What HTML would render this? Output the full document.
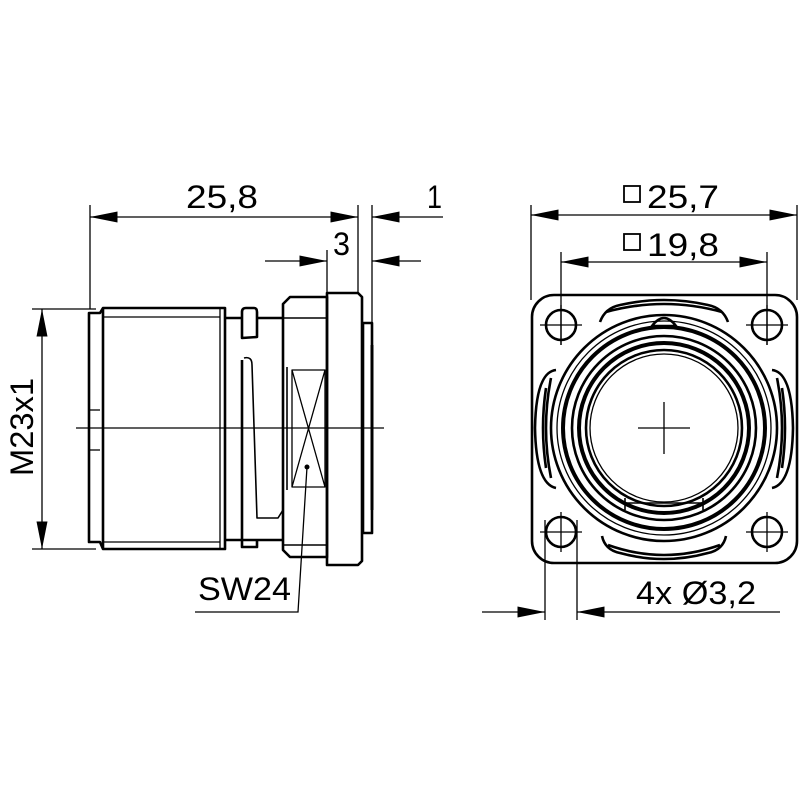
<!DOCTYPE html>
<html><head><style>html,body{margin:0;padding:0;background:#fff}svg{display:block}text{font-family:"Liberation Sans",sans-serif;font-size:32px;fill:#000}</style></head><body>
<svg width="800" height="800" viewBox="0 0 800 800" xmlns="http://www.w3.org/2000/svg">
<defs>
<marker id="a" viewBox="0 0 10 4" refX="10" refY="2" markerWidth="28" markerHeight="11" markerUnits="userSpaceOnUse" orient="auto-start-reverse"><path d="M0,0L10,2L0,4z" fill="#000"/></marker>
</defs>
<g stroke="#000" fill="none" stroke-width="1.3">
<line x1="90" y1="205" x2="90" y2="309"/>
<line x1="358" y1="205" x2="358" y2="293"/>
<line x1="372" y1="205" x2="372" y2="323"/>
<line x1="327" y1="250" x2="327" y2="297"/>
<line x1="90" y1="217" x2="358" y2="217" marker-start="url(#a)" marker-end="url(#a)"/>
<line x1="443" y1="217" x2="372" y2="217" marker-end="url(#a)"/>
<line x1="265" y1="261" x2="327" y2="261" marker-end="url(#a)"/>
<line x1="421" y1="261" x2="372" y2="261" marker-end="url(#a)"/>
<line x1="32" y1="309" x2="96" y2="309"/>
<line x1="32" y1="549" x2="96" y2="549"/>
<line x1="42" y1="309" x2="42" y2="549" marker-start="url(#a)" marker-end="url(#a)"/>
<line x1="76" y1="428" x2="384" y2="428"/>
</g>
<g stroke="#000" fill="none" stroke-width="2.6" stroke-linejoin="round">
<path d="M89,313 H100 L103,308 H225 V549 H103 L100,542 H89 Z"/>
<line x1="103" y1="308" x2="103" y2="549"/>
<line x1="220" y1="308" x2="220" y2="549" stroke-width="1.3"/>
<line x1="103" y1="317" x2="220" y2="317" stroke-width="1.3"/>
<line x1="103" y1="542" x2="220" y2="542" stroke-width="1.3"/>
<line x1="89" y1="410" x2="100" y2="410" stroke-width="1.3"/>
<line x1="89" y1="450" x2="100" y2="450" stroke-width="1.3"/>
<path d="M225,318 H242 M225,540 H283"/>
<path d="M242,338 V312 Q242,308 246,308 H254 Q257,308 257,312 V337 Z"/>
<path d="M257,318 H283"/>
<path d="M242,360 V547 H257 V540"/>
<path d="M244,358 Q252,356 252,365 L257,518 H278 L283,510" stroke-width="1.6"/>
<path d="M283,304 L290,297 H327 V557 H290 L283,550 Z"/>
<line x1="283" y1="318" x2="327" y2="318" stroke-width="1.6"/>
<line x1="283" y1="545" x2="327" y2="545" stroke-width="1.6"/>
<rect x="292" y="370" width="33" height="117" stroke-width="1.3"/>
<path d="M292,370 L325,487 M325,370 L292,487" stroke-width="1.3"/>
<line x1="287" y1="367" x2="287" y2="490" stroke-width="1.6"/>
<path d="M327,293 H358 L362,297 V561 L358,565 H327 Z"/>
<rect x="363" y="323" width="9" height="210"/>
<line x1="372" y1="345" x2="372" y2="510" stroke-width="3"/>
</g>
<circle cx="307" cy="467" r="2.5" fill="#000"/>
<path d="M307,467 L298,612 H195" stroke="#000" stroke-width="1.3" fill="none"/>
<text x="186" y="208" textLength="72" lengthAdjust="spacingAndGlyphs">25,8</text>
<text x="427" y="208" textLength="15" lengthAdjust="spacingAndGlyphs">1</text>
<text x="333" y="255" textLength="17" lengthAdjust="spacingAndGlyphs">3</text>
<text x="198" y="600" textLength="93" lengthAdjust="spacingAndGlyphs">SW24</text>
<text transform="translate(33,476) rotate(-90)" textLength="98" lengthAdjust="spacingAndGlyphs">M23x1</text>

<g stroke="#000" fill="none" stroke-width="1.3">
<line x1="531" y1="205" x2="531" y2="300"/>
<line x1="797" y1="205" x2="797" y2="300"/>
<line x1="531" y1="215" x2="797" y2="215" marker-start="url(#a)" marker-end="url(#a)"/>
<line x1="561" y1="252" x2="561" y2="345"/>
<line x1="767" y1="252" x2="767" y2="345"/>
<line x1="561" y1="262" x2="767" y2="262" marker-start="url(#a)" marker-end="url(#a)"/>
<line x1="545" y1="520" x2="545" y2="620"/>
<line x1="577" y1="520" x2="577" y2="620"/>
<line x1="482" y1="612" x2="545" y2="612" marker-end="url(#a)"/>
<line x1="780" y1="612" x2="577" y2="612" marker-end="url(#a)"/>
<path d="M638,428 H690 M664,402 V454"/>
<path d="M540,325 H582 M746,325 H788 M540,532 H582 M746,532 H788 M561,305 V345 M767,305 V345 M561,512 V552 M767,512 V552"/>
</g>
<g stroke="#000" fill="none" stroke-width="2.6">
<rect x="532" y="295" width="265" height="268" rx="22"/>
<circle cx="561" cy="325" r="15"/><circle cx="767" cy="325" r="15"/>
<circle cx="561" cy="532" r="15"/><circle cx="767" cy="532" r="15"/>
<circle cx="664" cy="428" r="113"/>
<circle cx="664" cy="428" r="107" stroke-width="1.3"/>
<circle cx="664" cy="428" r="101" stroke-width="4"/>
<circle cx="664" cy="428" r="92"/>
<circle cx="664" cy="428" r="85" stroke-width="4"/>
<circle cx="664" cy="428" r="78"/>
<circle cx="664" cy="428" r="74" stroke-width="1.3"/>
<path d="M556,370 Q536,372 535,428 Q536,484 556,488 M551,378 Q541,428 551,478 M546,388 Q540,428 546,468"/>
<path d="M772,370 Q792,372 793,428 Q792,484 772,488 M777,378 Q787,428 777,478 M782,388 Q788,428 782,468"/>
<path d="M600,322 Q605,308 620,305 Q664,295 708,305 Q723,308 728,322 M606,312 Q664,296 722,312"/>
<path d="M602,536 Q605,550 620,553 Q664,565 708,553 Q723,550 726,536 M608,545 Q664,565 720,545"/>
<path d="M652,326 Q664,310 676,326 Z"/>
<path d="M627,503 H701 M625,498 V510 M703,498 V510" stroke-width="1.6"/>
</g>
<rect x="624" y="186" width="16" height="16" fill="none" stroke="#000" stroke-width="1.8"/>
<text x="647" y="208" textLength="72" lengthAdjust="spacingAndGlyphs">25,7</text>
<rect x="624" y="234" width="16" height="16" fill="none" stroke="#000" stroke-width="1.8"/>
<text x="647" y="256" textLength="72" lengthAdjust="spacingAndGlyphs">19,8</text>
<text x="636" y="604" textLength="120" lengthAdjust="spacingAndGlyphs">4x Ø3,2</text>
</svg>
</body></html>
